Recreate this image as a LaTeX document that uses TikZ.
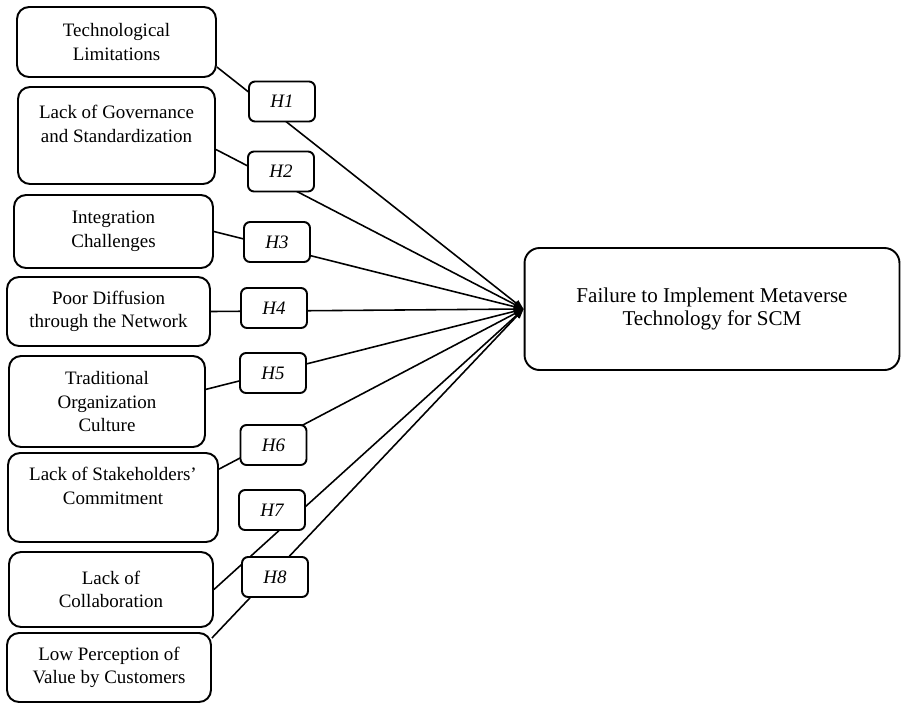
\documentclass[tikz,border=0pt]{standalone}
\usepackage{fontspec}
\setmainfont{Liberation Serif}
\usetikzlibrary{arrows.meta,backgrounds}
\tikzset{
  factor/.style={draw, line width=1.1pt, rounded corners=0.24cm, align=center, inner sep=2pt, font=\fontsize{10.8}{13.4}\selectfont},
  hyp/.style={draw, fill=white, line width=1.1pt, rounded corners=0.12cm, minimum width=1.32cm, minimum height=0.8cm, inner sep=1pt, font=\fontsize{10.8}{13}\selectfont\itshape},
  outcome/.style={draw, line width=1.1pt, rounded corners=0.3cm, align=center, minimum width=7.5cm, minimum height=2.44cm, font=\fontsize{12}{13.6}\selectfont},
  link/.style={line width=0.9pt, -{Triangle[length=5.5pt,width=4pt]}}
}
\begin{document}
\begin{tikzpicture}[x=0.02cm,y=-0.02cm]
\useasboundingbox (0,0) rectangle (902,704);
\node[factor, minimum width=3.98cm, minimum height=1.4cm] (tech) at (116.5,42) {Technological\\Limitations};
\node[factor, minimum width=3.94cm, minimum height=1.94cm] (gov) at (116.5,135.5) {Lack of Governance\\and Standardization\\\rule{0pt}{0pt}};
\node[factor, minimum width=3.98cm, minimum height=1.46cm] (integ) at (113.5,231.5) {Integration\\Challenges};
\node[factor, minimum width=4.06cm, minimum height=1.38cm] (diff) at (108.5,311.5) {Poor Diffusion\\through the Network};
\node[factor, minimum width=3.92cm, minimum height=1.82cm] (cult) at (107,401.5) {Traditional\\Organization\\Culture};
\node[factor, minimum width=4.2cm, minimum height=1.78cm] (stake) at (113,497.5) {Lack of Stakeholders’\\Commitment\\\rule{0pt}{0pt}};
\node[factor, minimum width=4.08cm, minimum height=1.5cm] (collab) at (111,589.5) {Lack of\\Collaboration};
\node[factor, minimum width=4.08cm, minimum height=1.38cm] (value) at (109,667.5) {Low Perception of\\Value by Customers};
\node[outcome] (fail) at (712,309) {Failure to Implement Metaverse\\Technology for SCM};
% hypotheses
\node[hyp] (h1) at (282,101.5) {H1};
\node[hyp] (h2) at (281,171.5) {H2};
\node[hyp] (h3) at (277,242) {H3};
\node[hyp] (h4) at (274,308) {H4};
\node[hyp] (h5) at (273,373) {H5};
\node[hyp] (h6) at (273.5,445) {H6};
\node[hyp] (h7) at (272,510) {H7};
\node[hyp] (h8) at (275,577) {H8};
\begin{scope}[on background layer]
\draw[link] (tech.-14) -- (fail.west);
\draw[link] (gov.-8) -- (fail.west);
\draw[link] (integ.east) -- (fail.west);
\draw[link] (diff.east) -- (fail.west);
\draw[link] (cult.7) -- (fail.west);
\draw[link] (stake.15) -- (fail.west);
\draw[link] (collab.east) -- (fail.west);
\draw[link] (value.16) -- (fail.west);
\end{scope}
\end{tikzpicture}
\end{document}
